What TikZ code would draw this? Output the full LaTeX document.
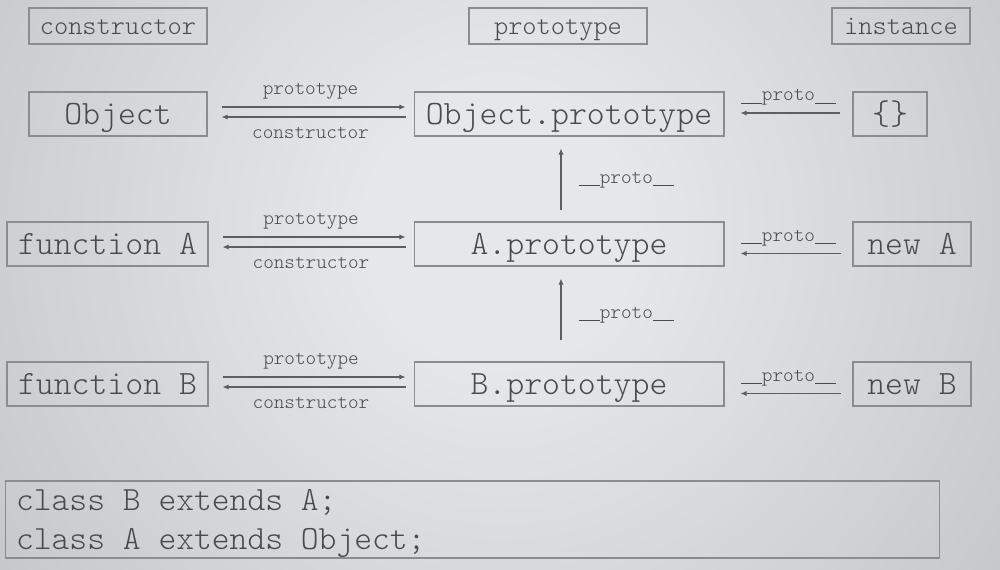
\documentclass[tikz,border=0pt]{standalone}
\usepackage{fontspec}
\setmonofont{Latin Modern Mono Light}
\usepackage{xcolor}
\usepackage{tikz}
\usetikzlibrary{arrows.meta}

\definecolor{bgin}{HTML}{E6E7E8}
\definecolor{bgout}{HTML}{B2B5B7}
\definecolor{txtgray}{HTML}{4A4A4A}
\definecolor{boxgray}{HTML}{8C8C8C}
\definecolor{arrgray}{HTML}{5E5E5E}
\pgfdeclareradialshading{bgglow}{\pgfpoint{0bp}{0bp}}{color(0bp)=(bgin); color(6bp)=(bgin); color(40bp)=(bgout); color(50bp)=(bgout)}
\newcommand{\ubar}{\rule[-1.6pt]{1.05em}{0.45pt}}
\newcommand{\uproto}{\ubar proto\ubar}

\begin{document}
\begin{tikzpicture}[x=0.02cm, y=-0.02cm,
  box/.style={draw=boxgray, line width=0.6pt, text=txtgray, inner sep=0pt,
    font=\ttfamily\fontsize{19.4}{22}\selectfont, minimum height=0.88cm,
    text height=14pt, text depth=2.2pt},
  hdr/.style={box, font=\ttfamily\fontsize{15.4}{18}\selectfont, minimum height=0.72cm,
    text height=11.4pt, text depth=2pt},
  lbl/.style={text=txtgray, font=\ttfamily\fontsize{11.5}{13}\selectfont,
    text height=6.9pt, text depth=2.3pt},
  arr/.style={draw=arrgray, line width=0.6pt, -{Latex[length=3.5pt,width=3pt]}},
  code/.style={draw=boxgray, line width=0.6pt, text=txtgray,
    font=\ttfamily\fontsize{19.3}{22.2}\selectfont, text width=18.26cm, align=left,
    inner xsep=0.22cm, inner ysep=0pt, minimum height=1.54cm}]
  \useasboundingbox (0,0) rectangle (1000,569);

  % Background glow
  \begin{scope}
    \clip (0,0) rectangle (1000,569);
    \fill[bgout] (0,0) rectangle (1000,569);
    \shade[shading=bgglow] (-60,-330) rectangle (1060,790);
  \end{scope}

  % Column headers
  \node[hdr, minimum width=3.56cm] (hcons) at (118,26) {constructor};
  \node[hdr, minimum width=3.56cm] (hproto) at (558,26) {prototype};
  \node[hdr, minimum width=2.76cm] (hinst) at (901,26) {instance};

  % Object row
  \node[box, minimum width=3.56cm] (obj) at (118,114) {Object};
  \node[box, minimum width=6.2cm] (objp) at (569,114) {Object.prototype};
  \node[box, minimum width=1.48cm] (empty) at (890,114) {\{\}};

  % Class A row
  \node[box, minimum width=4.02cm] (funa) at (107.5,244) {function A};
  \node[box, minimum width=6.2cm] (ap) at (569,244) {A.prototype};
  \node[box, minimum width=2.36cm] (newa) at (912,244) {new A};

  % Class B row
  \node[box, minimum width=4.02cm] (funb) at (107.5,384) {function B};
  \node[box, minimum width=6.2cm] (bp) at (569,384) {B.prototype};
  \node[box, minimum width=2.36cm] (newb) at (912,384) {new B};

  % prototype / constructor pairs
  \draw[arr, shorten <=0.28cm, shorten >=0.16cm] ([yshift=0.14cm]obj.east) -- node[lbl, above=1.3pt] {prototype} ([yshift=0.14cm]objp.west);
  \draw[arr, shorten <=0.16cm, shorten >=0.28cm] ([yshift=-0.06cm]objp.west) -- node[lbl, below=1.6pt] {constructor} ([yshift=-0.06cm]obj.east);
  \draw[arr, shorten <=0.28cm, shorten >=0.16cm] ([yshift=0.14cm]funa.east) -- node[lbl, above=1.3pt] {prototype} ([yshift=0.14cm]ap.west);
  \draw[arr, shorten <=0.16cm, shorten >=0.28cm] ([yshift=-0.06cm]ap.west) -- node[lbl, below=1.6pt] {constructor} ([yshift=-0.06cm]funa.east);
  \draw[arr, shorten <=0.28cm, shorten >=0.16cm] ([yshift=0.14cm]funb.east) -- node[lbl, above=1.3pt] {prototype} ([yshift=0.14cm]bp.west);
  \draw[arr, shorten <=0.16cm, shorten >=0.28cm] ([yshift=-0.06cm]bp.west) -- node[lbl, below=1.6pt] {constructor} ([yshift=-0.06cm]funb.east);

  % instance __proto__ links
  \draw[arr, shorten <=0.24cm, shorten >=0.32cm] ([yshift=0.02cm]empty.west) -- node[lbl, above=1pt] {\uproto} ([yshift=0.02cm]objp.east);
  \draw[arr, shorten <=0.24cm, shorten >=0.32cm] ([yshift=-0.19cm]newa.west) -- node[lbl, above=1pt] {\uproto} ([yshift=-0.19cm]ap.east);
  \draw[arr, shorten <=0.24cm, shorten >=0.32cm] ([yshift=-0.19cm]newb.west) -- node[lbl, above=1pt] {\uproto} ([yshift=-0.19cm]bp.east);

  % prototype chain
  \draw[arr, shorten <=0.22cm, shorten >=0.24cm] ([xshift=-0.16cm]ap.north) -- node[lbl, right=6.4pt] {\uproto} ([xshift=-0.16cm]objp.south);
  \draw[arr, shorten <=0.42cm, shorten >=0.24cm] ([xshift=-0.16cm]bp.north) -- node[lbl, right=6.4pt] {\uproto} ([xshift=-0.16cm]ap.south);

  % Source snippet
  \node[code] (cls) at (472.5,519.5) {\spaceskip=0pt\xspaceskip=0pt\rule{0pt}{17pt}class B extends A;\\class A extends Object;};
\end{tikzpicture}
\end{document}
